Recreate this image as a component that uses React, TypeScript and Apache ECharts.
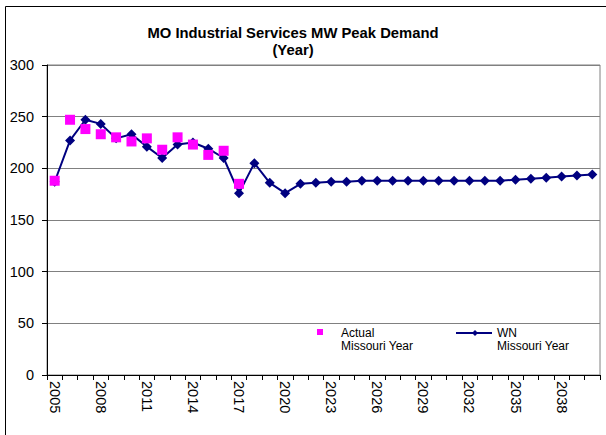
import React, { useEffect, useRef } from "react";
import * as echarts from "echarts";

const years: string[] = [];
for (let y = 2005; y <= 2040; y++) years.push(String(y));

const actualValues = [188, 247, 238, 233, 230, 226, 229, 218, 230, 223, 213, 217, 185];

const wnValues = [
  187, 227, 247, 243, 229, 233, 221, 210, 223, 225, 219, 210, 176, 205, 186, 176,
  185, 186, 187, 187, 188, 188, 188, 188, 188, 188, 188, 188, 188, 188, 189, 190,
  191, 192, 193, 194,
];

const yTicks = [0, 50, 100, 150, 200, 250, 300];

const titleText = "MO Industrial Services MW Peak Demand\n(Year)";
const actualName = "Actual\nMissouri Year";
const wnName = "WN\nMissouri Year";

const FONT = "'Liberation Sans', Arial, sans-serif";

export default function App() {
  const ref = useRef<HTMLDivElement>(null);

  useEffect(() => {
    if (!ref.current) return;
    const chart = echarts.init(ref.current, null, { renderer: "svg" });
    chart.setOption({
      animation: false,
      backgroundColor: "#ffffff",
      textStyle: { fontFamily: FONT },
      title: {
        text: titleText,
        left: 288,
        top: 19,
        textAlign: "center",
        textStyle: {
          fontFamily: FONT,
          fontSize: 14.8,
          fontWeight: "bold",
          color: "#000",
          lineHeight: 17,
        },
      },
      legend: { show: false },
      grid: {
        left: 47,
        right: 6,
        top: 65,
        bottom: 60,
        show: true,
        borderColor: "#808080",
        borderWidth: 1,
      },
      xAxis: {
        type: "category",
        data: years,
        boundaryGap: true,
        axisLine: { lineStyle: { color: "#000", width: 1 } },
        axisTick: { show: true, interval: 0, length: 5, lineStyle: { color: "#000" } },
        axisLabel: {
          interval: 2,
          rotate: -90,
          fontSize: 14.5,
          color: "#000",
          fontFamily: FONT,
          margin: 6,
        },
        splitLine: { show: false },
      },
      yAxis: {
        type: "value",
        min: yTicks[0],
        max: yTicks[yTicks.length - 1],
        interval: 50,
        axisLine: { show: true, lineStyle: { color: "#000", width: 1 } },
        axisTick: { show: true, length: 5, lineStyle: { color: "#000" } },
        axisLabel: { fontSize: 14.5, color: "#000", fontFamily: FONT, margin: 13 },
        splitLine: { show: true, lineStyle: { color: "#808080", width: 1 } },
      },
      series: [
        {
          name: wnName,
          type: "line",
          data: wnValues,
          symbol: "diamond",
          symbolSize: 10,
          smooth: false,
          itemStyle: { color: "#000080" },
          lineStyle: { color: "#000080", width: 2 },
          z: 2,
        },
        {
          name: actualName,
          type: "scatter",
          data: actualValues,
          symbol: "rect",
          symbolSize: 10,
          itemStyle: { color: "#FF00FF", opacity: 1 },
          z: 3,
        },
      ],
      graphic: [
        {
          type: "rect",
          shape: { x: 5.5, y: 6.5, width: 700, height: 500 },
          style: { fill: "none", stroke: "#000", lineWidth: 1 },
          silent: true,
        },
        {
          type: "rect",
          shape: { x: 317, y: 329, width: 6, height: 6 },
          style: { fill: "#FF00FF" },
        },
        {
          type: "text",
          x: 341,
          y: 339,
          style: {
            text: actualName,
            font: `12px ${FONT}`,
            fill: "#000",
            lineHeight: 13,
            verticalAlign: "middle",
            align: "left",
          },
        },
        {
          type: "line",
          shape: { x1: 456, y1: 333, x2: 492, y2: 333 },
          style: { stroke: "#000080", lineWidth: 2 },
        },
        {
          type: "polygon",
          shape: { points: [[475, 330], [478, 333], [475, 336], [472, 333]] },
          style: { fill: "#000080" },
        },
        {
          type: "text",
          x: 497,
          y: 339,
          style: {
            text: wnName,
            font: `12px ${FONT}`,
            fill: "#000",
            lineHeight: 13,
            verticalAlign: "middle",
            align: "left",
          },
        },
      ],
    });
    return () => chart.dispose();
  }, []);

  return (
    <div
      ref={ref}
      style={{ position: "absolute", left: 0, top: 0, width: 606, height: 435 }}
    />
  );
}
